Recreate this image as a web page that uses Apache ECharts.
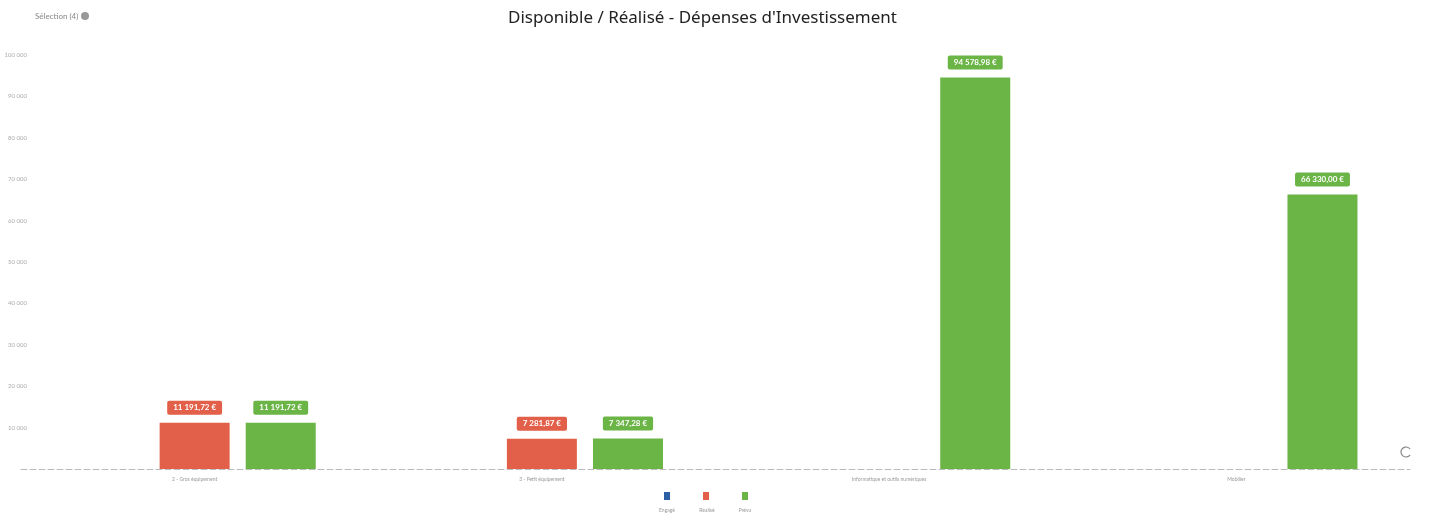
<!DOCTYPE html>
<html>
<head>
<meta charset="utf-8">
<script src="https://cdn.jsdelivr.net/npm/echarts@6/dist/echarts.min.js"></script>
<style>
  html, body { margin: 0; padding: 0; background: #fff; }
  #chart { width: 1430px; height: 528px; }
</style>
</head>
<body>
<div id="chart"></div>
<script>
// données
const categories = ['2 - Gros équipement', '3 - Petit équipement', 'Informatique et outils numériques', 'Mobilier'];
const seriesNames = ['Engagé', 'Réalisé', 'Prévu'];
const engage = [null, null, null, null];
const realise = [11191.72, 7281.87, null, null];
const prevu = [11191.72, 7347.28, 94578.98, 66330.00];
const seriesColors = ['#2c5fa6', '#e2604a', '#6bb446'];

const fmtEuro = v => v.toLocaleString('fr-FR', { minimumFractionDigits: 2, maximumFractionDigits: 2 }).replace(/\u202f|\u00a0/g, ' ') + ' €';

var myChart = echarts.init(document.getElementById('chart'));

const barLabel = (color) => ({
  show: true,
  position: 'top',
  distance: 8,
  formatter: p => fmtEuro(p.value),
  color: '#fff',
  fontSize: 8,
  fontWeight: 'bold',
  fontFamily: 'Lato',
  backgroundColor: color,
  padding: [3, 6],
  borderRadius: 2
});

var option = {
  animation: false,
  title: {
    text: "Disponible / Réalisé - Dépenses d'Investissement",
    left: 503,
    top: 5,
    textStyle: { fontSize: 17, fontWeight: 'normal', color: '#222', fontFamily: 'Noto Sans' }
  },
  legend: {
    data: seriesNames,
    bottom: 23,
    left: 659,
    icon: 'rect',
    itemWidth: 6,
    itemHeight: 8,
    itemGap: 33,
    formatter: () => '',
    textStyle: { fontSize: 1 }
  },
  grid: { left: 21, right: 20, top: 55, bottom: 59 },
  xAxis: {
    type: 'category',
    data: categories,
    axisTick: { show: false },
    axisLine: { lineStyle: { color: '#bbb', type: [6, 3], width: 1 } },
    axisLabel: { fontSize: 5, color: '#999', margin: 8, fontFamily: 'Lato' }
  },
  yAxis: {
    type: 'value',
    min: 0,
    max: 100000,
    interval: 10000,
    splitLine: { show: false },
    axisLabel: {
      fontSize: 6, color: '#aaa', margin: -6, fontFamily: 'Lato',
      formatter: v => v === 0 ? '' : v.toLocaleString('fr-FR').replace(/\u202f|\u00a0/g, ' ')
    }
  },
  series: [
    { name: seriesNames[0], type: 'bar', data: engage, barWidth: 70, barGap: '23%', itemStyle: { color: seriesColors[0] }, label: barLabel(seriesColors[0]) },
    { name: seriesNames[1], type: 'bar', data: realise, barWidth: 70, barGap: '23%', itemStyle: { color: seriesColors[1] }, label: barLabel(seriesColors[1]) },
    { name: seriesNames[2], type: 'bar', data: prevu, barWidth: 70, barGap: '23%', itemStyle: { color: seriesColors[2] }, label: barLabel(seriesColors[2]) }
  ],
  graphic: [
    { type: 'text', left: 35, top: 12, style: { text: 'Sélection (4)', fontSize: 8, fill: '#888', fontFamily: 'Lato' } },
    { type: 'circle', shape: { cx: 85, cy: 16, r: 4 }, style: { fill: '#999' } },
    { type: 'arc', shape: { cx: 1406, cy: 452, r: 5, startAngle: 0.6, endAngle: 5.7 }, style: { stroke: '#888', lineWidth: 1.2, fill: null } },
    { type: 'text', x: 667, y: 508, style: { text: seriesNames[0], fontSize: 5, fill: '#999', align: 'center', fontFamily: 'Lato' } },
    { type: 'text', x: 707, y: 508, style: { text: seriesNames[1], fontSize: 5, fill: '#999', align: 'center', fontFamily: 'Lato' } },
    { type: 'text', x: 745, y: 508, style: { text: seriesNames[2], fontSize: 5, fill: '#999', align: 'center', fontFamily: 'Lato' } }
  ]
};

option && myChart.setOption(option);
</script>
</body>
</html>
